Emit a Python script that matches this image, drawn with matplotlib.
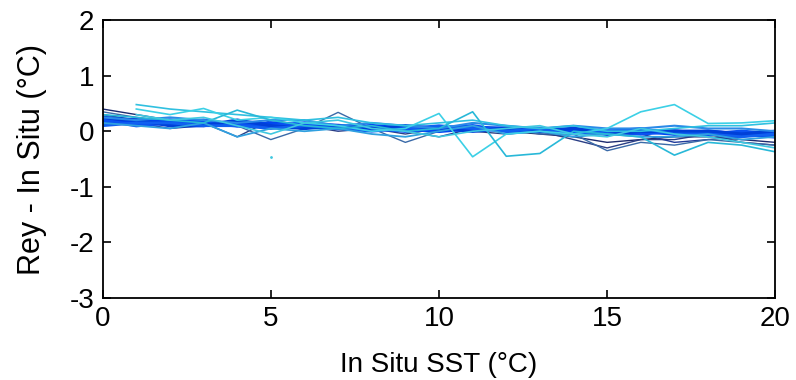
import numpy as np
import matplotlib
matplotlib.use("Agg")
import matplotlib.pyplot as plt
from matplotlib.ticker import FuncFormatter

plt.rcParams["font.family"] = ["Liberation Sans", "DejaVu Sans"]

nan = np.nan
sst = list(range(21))

# differences (Rey - in situ) per in situ SST bin, one list per series
navy_a = [0.40, 0.30, 0.20, 0.15, 0.10, 0.15, 0.10, 0.05, 0.00, 0.05, 0.00, 0.05, 0.00, -0.05, -0.10, -0.20, -0.15, -0.10, -0.10, -0.15, -0.20]
navy_b = [0.30, 0.20, 0.10, 0.15, -0.10, 0.20, 0.10, 0.00, 0.05, -0.05, 0.05, 0.00, -0.05, 0.00, -0.15, -0.30, -0.15, -0.15, -0.05, -0.20, -0.25]
navy_c = [0.20, 0.15, 0.05, 0.10, 0.15, 0.05, 0.15, 0.10, 0.10, 0.00, -0.10, 0.05, 0.05, 0.00, -0.05, -0.05, -0.05, -0.20, -0.15, -0.10, -0.05]
steel_a = [0.35, 0.25, 0.15, 0.20, 0.10, -0.15, 0.05, 0.34, 0.05, -0.20, 0.00, 0.10, 0.05, -0.05, -0.05, -0.35, -0.20, -0.25, -0.15, -0.20, -0.25]
blue_a = [0.20, 0.20, 0.15, 0.15, 0.15, 0.10, 0.10, 0.10, 0.05, 0.05, 0.05, 0.05, 0.05, 0.00, 0.00, 0.00, 0.00, 0.00, -0.05, -0.05, -0.05]
blue_b = [0.15, 0.15, 0.20, 0.15, 0.10, 0.15, 0.10, 0.05, 0.10, 0.05, 0.00, 0.05, 0.05, 0.05, 0.00, -0.05, 0.00, -0.05, 0.00, -0.05, -0.10]
blue_c = [0.20, 0.10, 0.15, 0.20, 0.10, 0.10, 0.15, 0.10, 0.05, 0.00, 0.05, 0.10, 0.00, 0.00, 0.05, 0.00, -0.05, 0.00, -0.05, 0.00, -0.05]
blue_d = [0.25, 0.20, 0.10, 0.10, 0.20, 0.10, 0.05, 0.10, 0.05, 0.10, 0.05, 0.00, 0.05, 0.00, 0.05, -0.05, 0.00, 0.00, 0.00, -0.05, 0.00]
blue_e = [0.10, 0.15, 0.15, 0.10, 0.10, 0.05, 0.10, 0.05, 0.00, 0.05, 0.10, 0.05, 0.00, 0.05, -0.05, 0.00, 0.05, -0.05, -0.05, -0.10, -0.05]
azure_a = [0.25, 0.20, 0.25, 0.20, 0.15, 0.20, 0.20, 0.10, 0.15, 0.10, 0.05, 0.15, 0.10, 0.05, 0.10, 0.05, 0.05, 0.10, 0.05, 0.05, 0.00]
azure_b = [0.15, 0.10, 0.05, 0.15, -0.10, 0.05, 0.00, 0.05, -0.05, -0.10, 0.00, 0.10, -0.05, 0.00, -0.10, -0.05, -0.10, -0.10, -0.05, -0.15, -0.10]
cyan_a = [nan, 0.48, 0.40, 0.35, 0.30, 0.25, 0.20, 0.25, 0.15, 0.10, 0.15, 0.20, 0.10, 0.05, 0.10, 0.00, 0.00, 0.05, 0.10, 0.10, 0.15]
cyan_b = [nan, 0.40, 0.30, 0.41, 0.20, 0.25, 0.15, 0.10, 0.00, 0.05, 0.32, -0.46, -0.05, 0.00, -0.05, 0.05, 0.35, 0.48, 0.14, 0.15, 0.19]
cyan_c = [0.30, 0.25, 0.20, 0.15, 0.38, 0.20, 0.10, 0.05, 0.10, 0.00, 0.05, 0.35, -0.45, -0.40, 0.00, -0.05, -0.10, -0.43, -0.20, -0.25, -0.37]
cyan_d = [nan, 0.30, 0.20, 0.25, 0.10, -0.05, 0.15, 0.20, 0.05, 0.00, -0.10, 0.00, 0.05, 0.10, -0.05, -0.10, 0.05, -0.05, -0.10, -0.20, -0.30]
dot_x = [5.0]
dot_y = [-0.47]

series = [navy_a, navy_b, navy_c, steel_a, blue_a, blue_b, blue_c, blue_d, blue_e,
          azure_a, azure_b, cyan_a, cyan_b, cyan_c, cyan_d]
colors = ["#1c2a6e", "#2b3f86", "#203a9a", "#3a6aa8", "#0038e0", "#0045f0", "#0a52f2",
          "#0040d8", "#1060f0", "#2a8ae8", "#30a0e0", "#30c0e0", "#3cd0e6", "#28b8d8", "#40c8e0"]
widths = [1.0, 1.0, 1.0, 1.0, 2.8, 2.6, 2.4, 2.4, 2.0, 1.5, 1.3, 1.2, 1.2, 1.2, 1.2]

fig = plt.figure(figsize=(7.96, 3.80), dpi=100)
ax = fig.add_axes([0.129, 0.216, 0.845, 0.731])
for ys, c, w in zip(series, colors, widths):
    ax.plot(sst, ys, color=c, lw=w)
ax.plot(dot_x, dot_y, ".", color="#40c8e0", ms=2)

ax.set_xlim(0, 20)
ax.set_ylim(-3, 2)
ax.set_xticks([0, 5, 10, 15, 20])
ax.set_yticks([-3, -2, -1, 0, 1, 2])
ax.yaxis.set_major_formatter(FuncFormatter(lambda v, p: f"{v:g}"))
ax.tick_params(direction="in", top=True, right=True, length=6, width=1.2,
               labelsize=20, pad=6)
for sp in ax.spines.values():
    sp.set_linewidth(1.3)
ax.set_xlabel("In Situ SST (°C)", fontsize=20, labelpad=14)
ax.set_ylabel("Rey - In Situ (°C)", fontsize=22, labelpad=16)

fig.savefig("out.png", dpi=100)
